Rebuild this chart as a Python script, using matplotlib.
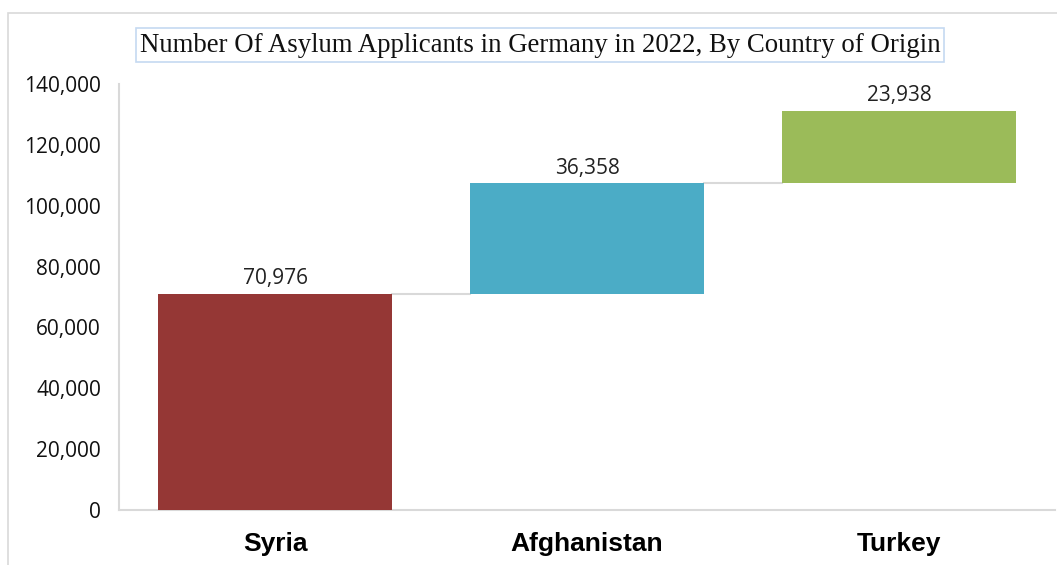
import matplotlib
matplotlib.use("Agg")
import matplotlib.pyplot as plt
from matplotlib.patches import Rectangle
from matplotlib.ticker import FuncFormatter
import numpy as np

categories = ["Syria", "Afghanistan", "Turkey"]
values = [70976, 36358, 23938]
colors = ["#953735", "#4BACC6", "#9BBB59"]
title = "Number Of Asylum Applicants in Germany in 2022, By Country of Origin"
yticks = [0, 20000, 40000, 60000, 80000, 100000, 120000, 140000]

bottoms = np.concatenate([[0], np.cumsum(values)[:-1]])
tops = np.cumsum(values)

fig = plt.figure(figsize=(10.57, 5.65), dpi=100)
fig.patches.append(Rectangle((8/1057, -0.1), 1.2, 1 - 13/565 + 0.1,
                             transform=fig.transFigure, fill=False,
                             edgecolor="#D9D9D9", linewidth=1.2))
ax = fig.add_axes([119/1057, 1 - 510/565, (1055 - 119)/1057, (510 - 84)/565])

x = np.arange(len(categories))
width = 0.747
ax.bar(x, values, bottom=bottoms, width=width, color=colors, edgecolor="none", zorder=3)

for i in range(len(categories) - 1):
    ax.plot([x[i] + width/2, x[i+1] - width/2], [tops[i], tops[i]],
            color="#D9D9D9", linewidth=1.5, zorder=2)

for i, v in enumerate(values):
    ax.text(x[i], tops[i] + 1600, f"{v:,}", ha="center", va="bottom",
            fontsize=15, family="Open Sans", color="#222222")

ax.set_xlim(-0.5, 2.5)
ax.set_ylim(0, 140000)
ax.set_yticks(yticks)
ax.yaxis.set_major_formatter(FuncFormatter(lambda v, p: f"{int(v):,}"))
ax.set_xticks(x)
ax.set_xticklabels(categories, fontsize=19, fontweight="bold", family="Liberation Sans")
for lbl in ax.get_yticklabels():
    lbl.set_family("Open Sans")
    lbl.set_fontsize(15)
    lbl.set_color("#111111")
ax.tick_params(axis="y", length=0, pad=13)
ax.tick_params(axis="x", length=0, pad=16)
for s in ["top", "right"]:
    ax.spines[s].set_visible(False)
ax.spines["left"].set_color("#D9D9D9")
ax.spines["bottom"].set_color("#D9D9D9")
ax.spines["left"].set_linewidth(1.5)
ax.spines["bottom"].set_linewidth(1.5)

fig.text(540/1057, 1 - 45/565, title, ha="center", va="center",
         fontsize=19.3, family="Liberation Serif", color="#111111",
         bbox=dict(boxstyle="square,pad=0.15", facecolor="white",
                   edgecolor="#C5D9F1", linewidth=1.2))

fig.savefig("out.png", dpi=100)
